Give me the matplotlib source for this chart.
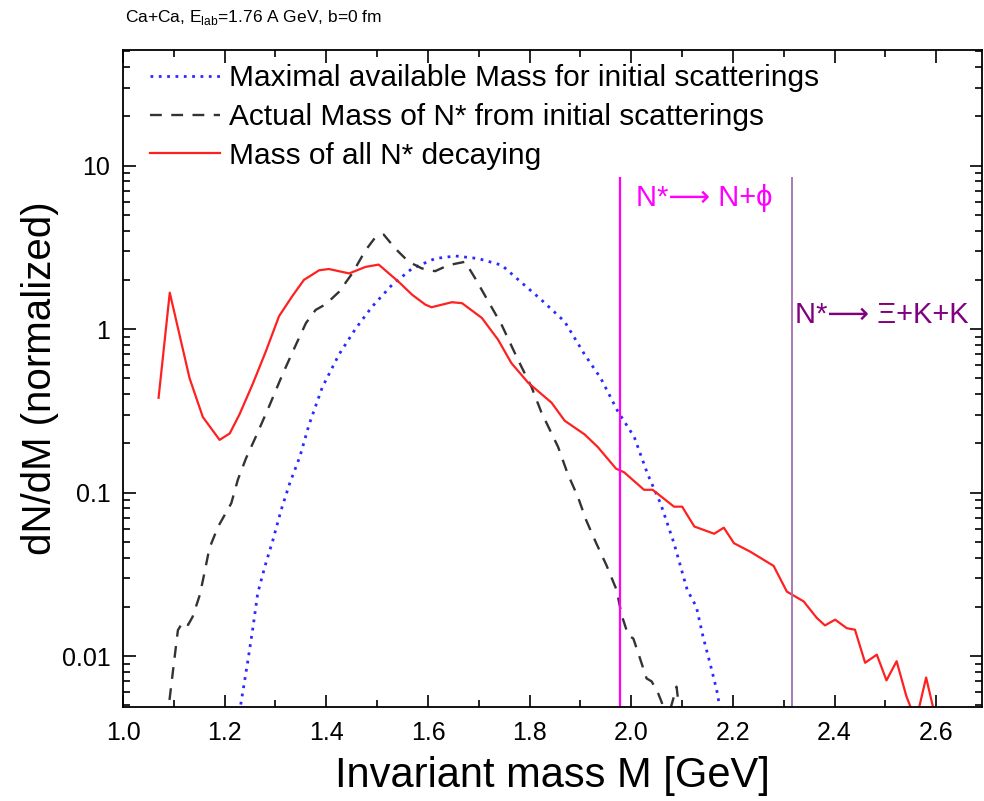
import matplotlib
matplotlib.use("Agg")
import matplotlib.pyplot as plt
from matplotlib.ticker import MultipleLocator, FixedLocator, LogLocator, NullFormatter

plt.rcParams['font.family'] = ['Liberation Sans', 'DejaVu Sans']
plt.rcParams['mathtext.fontset'] = 'custom'
plt.rcParams['mathtext.rm'] = 'Liberation Sans'

# maximal available mass for initial scatterings (blue dotted)
m_max = [1.229, 1.246, 1.256, 1.265, 1.279, 1.295, 1.311, 1.328, 1.348, 1.366,
         1.392, 1.425, 1.458, 1.49, 1.529, 1.569, 1.614, 1.654, 1.699, 1.745,
         1.778, 1.823, 1.869, 1.908, 1.94, 1.973, 2.006, 2.032, 2.058, 2.084,
         2.11, 2.128, 2.141, 2.155, 2.168, 2.176]
y_max = [0.0045, 0.0095, 0.0152, 0.0242, 0.0352, 0.0513, 0.078, 0.114, 0.166, 0.26,
         0.44, 0.70, 1.01, 1.37, 1.86, 2.35, 2.7, 2.8, 2.7, 2.46,
         2.0, 1.51, 1.11, 0.70, 0.50, 0.316, 0.218, 0.13, 0.085, 0.049,
         0.0254, 0.020, 0.0132, 0.009, 0.0062, 0.0045]

# actual mass of N* from initial scatterings (black dashed)
m_act = [1.088, 1.0915, 1.097, 1.102, 1.108, 1.118, 1.128, 1.137, 1.151, 1.16,
         1.17, 1.187, 1.213, 1.226, 1.242, 1.262, 1.288, 1.314, 1.34, 1.36,
         1.379, 1.399, 1.425, 1.451, 1.477, 1.497, 1.513, 1.536, 1.562, 1.588,
         1.614, 1.64, 1.673, 1.693, 1.719, 1.745, 1.777, 1.804, 1.823, 1.856,
         1.875, 1.895, 1.911, 1.931, 1.951, 1.971, 1.981, 1.994, 2.004, 2.017,
         2.03, 2.04, 2.053, 2.06, 2.07, 2.082, 2.089, 2.097]
y_act = [0.004, 0.0054, 0.0075, 0.0101, 0.0144, 0.0162, 0.0155, 0.0174, 0.0236, 0.032,
         0.0457, 0.0618, 0.086, 0.12, 0.162, 0.222, 0.34, 0.53, 0.80, 1.09,
         1.31, 1.42, 1.69, 2.19, 3.03, 3.66, 3.78, 3.1, 2.58, 2.35,
         2.26, 2.46, 2.58, 2.04, 1.47, 1.06, 0.65, 0.44, 0.31, 0.19,
         0.13, 0.094, 0.068, 0.049, 0.036, 0.0254, 0.0178, 0.0134, 0.0128, 0.0097,
         0.0073, 0.0070, 0.0059, 0.0052, 0.0040, 0.0054, 0.0065, 0.0040]

# mass of all N* decaying (red solid)
m_all = [1.07, 1.092, 1.131, 1.157, 1.19, 1.21, 1.229, 1.255, 1.281, 1.307,
         1.333, 1.356, 1.386, 1.405, 1.445, 1.477, 1.503, 1.542, 1.569, 1.595,
         1.607, 1.647, 1.667, 1.706, 1.738, 1.764, 1.797, 1.843, 1.869, 1.908,
         1.934, 1.970, 1.986, 2.025, 2.042, 2.084, 2.10, 2.124, 2.163, 2.182,
         2.202, 2.234, 2.28, 2.306, 2.339, 2.365, 2.381, 2.401, 2.424, 2.44,
         2.46, 2.483, 2.502, 2.522, 2.541, 2.56, 2.58, 2.60]
y_all = [0.38, 1.67, 0.50, 0.29, 0.21, 0.23, 0.30, 0.46, 0.73, 1.2,
         1.59, 2.0, 2.29, 2.33, 2.19, 2.4, 2.48, 1.95, 1.62, 1.41,
         1.36, 1.46, 1.44, 1.17, 0.86, 0.62, 0.47, 0.355, 0.275, 0.227,
         0.19, 0.14, 0.133, 0.104, 0.104, 0.082, 0.082, 0.062, 0.056, 0.061,
         0.049, 0.0435, 0.0356, 0.0248, 0.0216, 0.0171, 0.0154, 0.0167, 0.0148, 0.0145,
         0.0091, 0.0102, 0.0071, 0.0093, 0.0057, 0.004, 0.0074, 0.004]

# decay thresholds
thresholds = [1.977, 2.317]
threshold_top = 8.5

fig = plt.figure(figsize=(9.84, 8.01), dpi=100)
ax = fig.add_axes([0.125, 0.1177, 0.873, 0.82])

ax.plot(m_max, y_max, color='#2a2aff', lw=2, ls=(0, (1, 2)),
        label='Maximal available Mass for initial scatterings')
ax.plot(m_act, y_act, color='#333333', lw=1.7, ls=(0, (5, 4)),
        label='Actual Mass of N* from initial scatterings')
ax.plot(m_all, y_all, color='#ff2020', lw=1.6,
        label='Mass of all N* decaying')

ax.vlines(thresholds[0], 1e-4, threshold_top, color='#ff00ff', lw=1.6)
ax.vlines(thresholds[1], 1e-4, threshold_top, color='#a070b0', lw=1.3)
ax.text(2.01, 6.3, 'N*⟶ N+ϕ', color='#ff00ff', fontsize=21, va='center')
ax.text(2.322, 1.22, 'N*⟶ Ξ+K+K', color='#800080', fontsize=21, va='center')

ax.set_yscale('log')
ax.set_xlim(1.0, 2.69)
ax.set_ylim(0.0049, 51)

ax.xaxis.set_major_locator(FixedLocator([1.0, 1.2, 1.4, 1.6, 1.8, 2.0, 2.2, 2.4, 2.6]))
ax.xaxis.set_minor_locator(MultipleLocator(0.1))
ax.set_xticklabels(['1.0', '1.2', '1.4', '1.6', '1.8', '2.0', '2.2', '2.4', '2.6'])
ax.yaxis.set_major_locator(FixedLocator([0.01, 0.1, 1, 10]))
ax.set_yticklabels(['0.01', '0.1', '1', '10'])
ax.yaxis.set_minor_locator(LogLocator(base=10, subs=range(2, 10)))
ax.yaxis.set_minor_formatter(NullFormatter())

ax.tick_params(which='both', direction='in', top=True, right=True, labelsize=18, width=1.2)
ax.tick_params(which='major', length=9)
ax.tick_params(which='minor', length=5)
ax.tick_params(axis='x', which='major', pad=10)
ax.tick_params(axis='y', which='major', pad=9)
for s in ax.spines.values():
    s.set_linewidth(1.3)

ax.set_xlabel('Invariant mass M [GeV]', fontsize=30, labelpad=8)
ax.set_ylabel('dN/dM (normalized)', fontsize=29, labelpad=2)

ax.legend(loc='upper left', bbox_to_anchor=(0.031, 0.978), frameon=False, fontsize=21.5,
          handlelength=2.35, handletextpad=0.3, labelspacing=0.36,
          borderaxespad=0, borderpad=0)

fig.text(0.127, 0.978, 'Ca+Ca, E$_{\\rm lab}$=1.76 A GeV, b=0 fm', fontsize=12.5, va='center')

fig.savefig('out.png', dpi=100)
